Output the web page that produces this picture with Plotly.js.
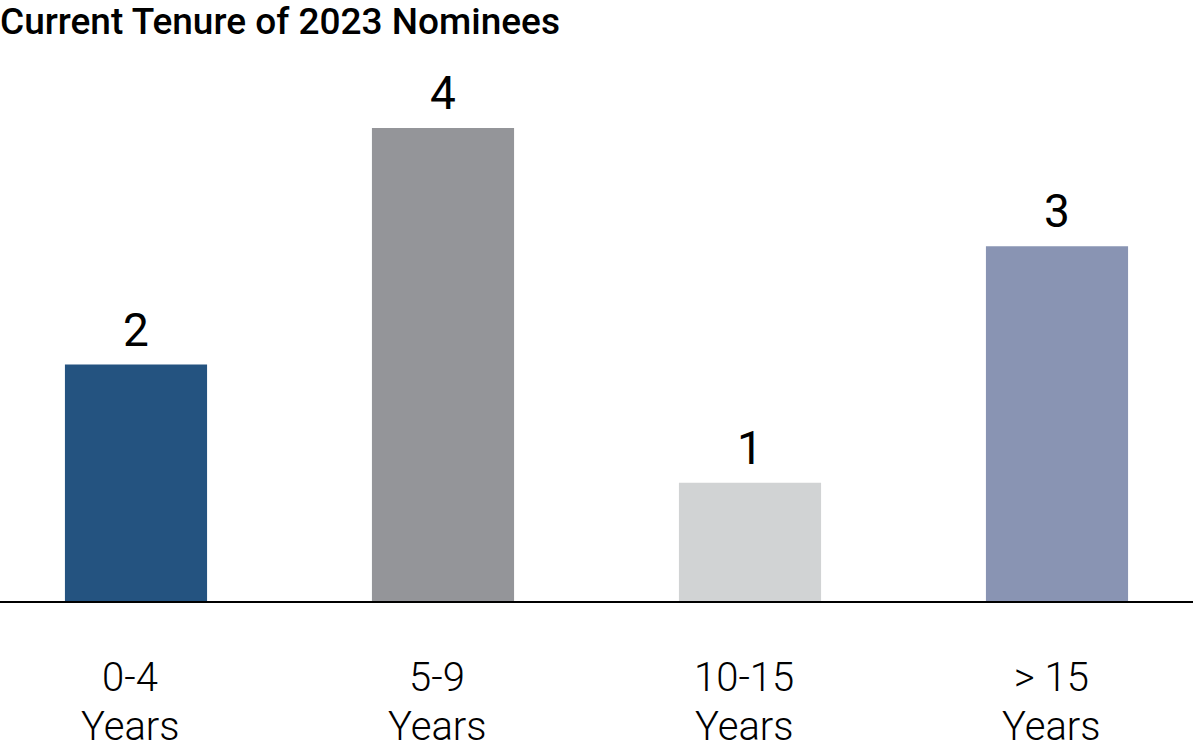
<!DOCTYPE html>
<html>
<head>
<meta charset="utf-8">
<script src="https://cdn.plot.ly/plotly-3.0.1.min.js"></script>
<style>html,body{margin:0;padding:0;background:#fff;}#chart{width:1193px;height:752px;}</style>
</head>
<body>
<div id="chart"></div>
<script>
const categories = ["0-4 Years", "5-9 Years", "10-15 Years", "> 15 Years"];
const tickTop = ["0-4", "5-9", "10-15", "> 15"];
const tickBottom = ["Years", "Years", "Years", "Years"];
const values = [2, 4, 1, 3];
const colors = ["#245380", "#949599", "#D1D3D4", "#8994B3"];

const trace = {
  type: "bar",
  x: categories,
  y: values,
  width: 0.463,
  marker: {color: colors, line: {width: 0}},
  hoverinfo: "none"
};

const valueAnn = categories.map((c, i) => ({
  x: c, y: values[i], xref: "x", yref: "y",
  text: String(values[i]),
  showarrow: false, yanchor: "bottom", yshift: 6,
  font: {family: "Roboto", size: 46, color: "#000"}
}));

const tickFont = {family: "Roboto", size: 40, weight: 300, color: "#000"};
const tickAnnTop = categories.map((c, i) => ({
  x: c, y: 0, xref: "x", yref: "paper",
  text: tickTop[i], showarrow: false, yanchor: "middle",
  xshift: -6, yshift: -76, font: tickFont
}));
const tickAnnBottom = categories.map((c, i) => ({
  x: c, y: 0, xref: "x", yref: "paper",
  text: tickBottom[i], showarrow: false, yanchor: "middle",
  xshift: -6, yshift: -125, font: tickFont
}));

const layout = {
  width: 1193, height: 752,
  margin: {l: 0, r: 0, t: 60, b: 151, pad: 0},
  paper_bgcolor: "#fff", plot_bgcolor: "#fff",
  showlegend: false,
  title: {
    text: "Current Tenure of 2023 Nominees",
    x: 0, xref: "paper", xanchor: "left",
    y: 1 - 21/752, yref: "container", yanchor: "middle",
    font: {family: "Roboto", size: 37, weight: 500, color: "#000"}
  },
  xaxis: {
    type: "category",
    range: [-0.443, 3.443],
    showticklabels: false,
    ticks: "",
    showline: true, linecolor: "#000", linewidth: 2,
    showgrid: false, zeroline: false,
    fixedrange: true
  },
  yaxis: {
    range: [0, 541/118.25],
    showticklabels: false, showgrid: false, zeroline: false, showline: false,
    ticks: "", fixedrange: true
  },
  annotations: valueAnn.concat(tickAnnTop, tickAnnBottom)
};

Plotly.newPlot("chart", [trace], layout, {staticPlot: true, displayModeBar: false});
</script>
</body>
</html>
